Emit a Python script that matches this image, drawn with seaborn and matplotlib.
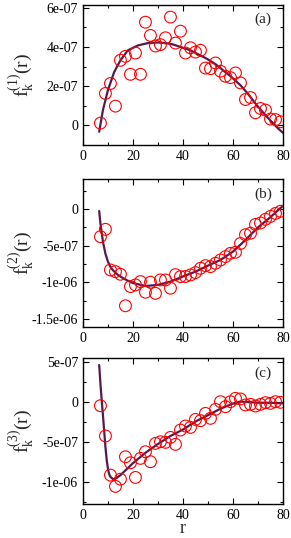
import numpy as np
import pandas as pd
import matplotlib
matplotlib.use("Agg")
import matplotlib.pyplot as plt
import seaborn as sns
from matplotlib.ticker import MultipleLocator, FuncFormatter

# -----------------------------
# Data
# -----------------------------
r_pts = [7, 9, 11, 13, 15, 17, 19, 21, 23, 25, 27, 29, 31, 33, 35, 37, 39,
         41, 43, 45, 47, 49, 51, 53, 55, 57, 59, 61, 63, 65, 67, 69, 71, 73,
         75, 77, 79]

f1_pts = [0.1, 1.62, 2.13, 0.97, 3.32, 3.52, 2.6, 3.69, 2.6, 5.27, 4.59,
          4.05, 4.12, 4.47, 5.53, 4.2, 4.81, 3.69, 3.96, 3.74, 3.83, 2.92,
          2.89, 3.18, 2.76, 2.5, 2.43, 2.67, 2.16, 1.31, 1.41, 0.63, 0.85,
          0.77, 0.31, 0.28, 0.17]

f2_pts = [-3.77, -2.77, -8.31, -8.54, -8.9, -13.2, -10.58, -10.35, -9.9,
          -11.35, -9.99, -11.5, -9.67, -9.67, -10.8, -8.95, -9.22, -9.2,
          -8.99, -8.67, -8.08, -7.72, -7.86, -7.4, -6.95, -6.49, -6.04,
          -5.9, -4.7, -3.5, -3.3, -2.1, -1.9, -1.4, -1.0, -0.6, -0.3]

f3_pts = [-0.42, -4.2, -9.09, -10.5, -9.6, -6.8, -7.55, -9.38, -7.0, -6.17,
          -7.42, -5.13, -4.92, -5.0, -4.38, -5.25, -3.46, -2.96, -3.13,
          -2.13, -2.29, -1.38, -2.0, -0.88, 0.08, -0.54, 0.08, 0.5, 0.42,
          -0.33, -0.25, -0.46, -0.25, -0.04, -0.13, 0.08, 0.0]

# fitted curves
r_fit1 = [6.5, 8, 10, 12.5, 15, 18, 22, 26, 30, 33, 36, 39, 43, 46, 49.5,
          53, 56, 59.5, 63, 66, 69.5, 73, 76, 78, 80]
f1_fit = [-0.34, 0.77, 1.79, 2.72, 3.32, 3.83, 4.08, 4.2, 4.23, 4.2, 4.13,
          4.0, 3.83, 3.63, 3.4, 3.12, 2.81, 2.45, 2.04, 1.6, 1.02, 0.5,
          0.1, -0.17, -0.4]

r_fit2 = [6.5, 7, 8, 9, 10, 11, 12, 13.5, 15, 17.5, 20, 25, 30, 35, 40,
          45, 50, 55, 60, 65, 70, 75, 80]
f2_fit = [-0.27, -2.0, -4.45, -6.1, -7.18, -7.9, -8.35, -8.85, -9.22,
          -9.7, -10.1, -10.5, -10.35, -9.9, -9.2, -8.54, -7.72, -6.95,
          -5.81, -4.22, -2.5, -1.1, 0.45]

r_fit3 = [6.5, 7, 7.5, 8, 8.5, 9, 9.5, 10, 10.5, 11, 12, 13, 15, 20, 25,
          30, 35, 40, 45, 50, 55, 60, 63, 65, 70, 75, 80]
f3_fit = [4.66, 2.3, 0.3, -1.59, -3.6, -5.6, -7.2, -8.3, -9.0, -9.3,
          -9.59, -9.55, -9.1, -7.6, -6.3, -5.2, -4.2, -3.4, -2.4, -1.6,
          -0.8, -0.15, 0.1, 0.05, -0.05, -0.05, -0.13]

panels = [
    ("(a)", "1", r_pts, f1_pts, r_fit1, f1_fit, 1e-07,
     (-1.02e-07, 6.15e-07), 2e-07, 1e-07),
    ("(b)", "2", r_pts, f2_pts, r_fit2, f2_fit, 1e-07,
     (-1.605e-06, 4.1e-07), 5e-07, 2.5e-07),
    ("(c)", "3", r_pts, f3_pts, r_fit3, f3_fit, 1e-07,
     (-1.27e-06, 5.5e-07), 5e-07, 2.5e-07),
]

# -----------------------------
# Style
# -----------------------------
sns.set_style("ticks")
plt.rcParams["font.family"] = ["Liberation Serif", "DejaVu Serif"]
plt.rcParams["mathtext.fontset"] = "custom"
plt.rcParams["mathtext.rm"] = "Liberation Serif"
plt.rcParams["mathtext.it"] = "Liberation Serif:italic"
plt.rcParams["axes.linewidth"] = 1.0
plt.rcParams["axes.edgecolor"] = "black"

fig = plt.figure(figsize=(2.91, 5.38), dpi=100)

# axes boxes [left, bottom, width, height] in figure fractions
boxes = [
    [0.285, 0.7305, 0.6875, 0.2602],
    [0.285, 0.3928, 0.6875, 0.2745],
    [0.285, 0.0632, 0.6875, 0.2708],
]

line_color = "#541a4e"

for box, (tag, n, rx, fy, rf, ff, scale, ylim, ymaj, ymin) in zip(boxes, panels):
    ax = fig.add_axes(box)

    pts = pd.DataFrame({"r": rx, "f": np.array(fy) * scale})
    fit = pd.DataFrame({"r": rf, "f": np.array(ff) * scale})

    sns.lineplot(data=fit, x="r", y="f", ax=ax, color=line_color,
                 linewidth=1.6, zorder=2)
    sns.scatterplot(data=pts, x="r", y="f", ax=ax, marker="o", s=72,
                    facecolor="none", edgecolor="red", linewidth=0.8,
                    zorder=3)

    ax.set_xlim(0, 80)
    ax.set_ylim(*ylim)

    ax.xaxis.set_major_locator(MultipleLocator(20))
    ax.xaxis.set_minor_locator(MultipleLocator(10))
    ax.yaxis.set_major_locator(MultipleLocator(ymaj))
    ax.yaxis.set_minor_locator(MultipleLocator(ymin))
    ax.yaxis.set_major_formatter(FuncFormatter(lambda v, p: "%g" % round(v, 14)))

    ax.tick_params(which="both", direction="in", top=True, right=True,
                   labelsize=10, colors="black", width=0.8)
    ax.tick_params(which="major", length=4)
    ax.tick_params(which="minor", length=2.5)

    ax.set_ylabel(r"$\mathregular{f_k^{(%s)}(r)}$" % n, fontsize=14)
    ax.yaxis.set_label_coords(-0.235, 0.5)
    ax.set_xlabel("")

    ax.text(0.9, 0.895, tag, transform=ax.transAxes, fontsize=11,
            ha="center", va="center")

# x label of the bottom panel, placed in the gap under the tick labels
fig.text(0.6285, 0.0015, "r", fontsize=13, ha="center", va="bottom")

plt.savefig("out.png", dpi=100)
plt.close()
